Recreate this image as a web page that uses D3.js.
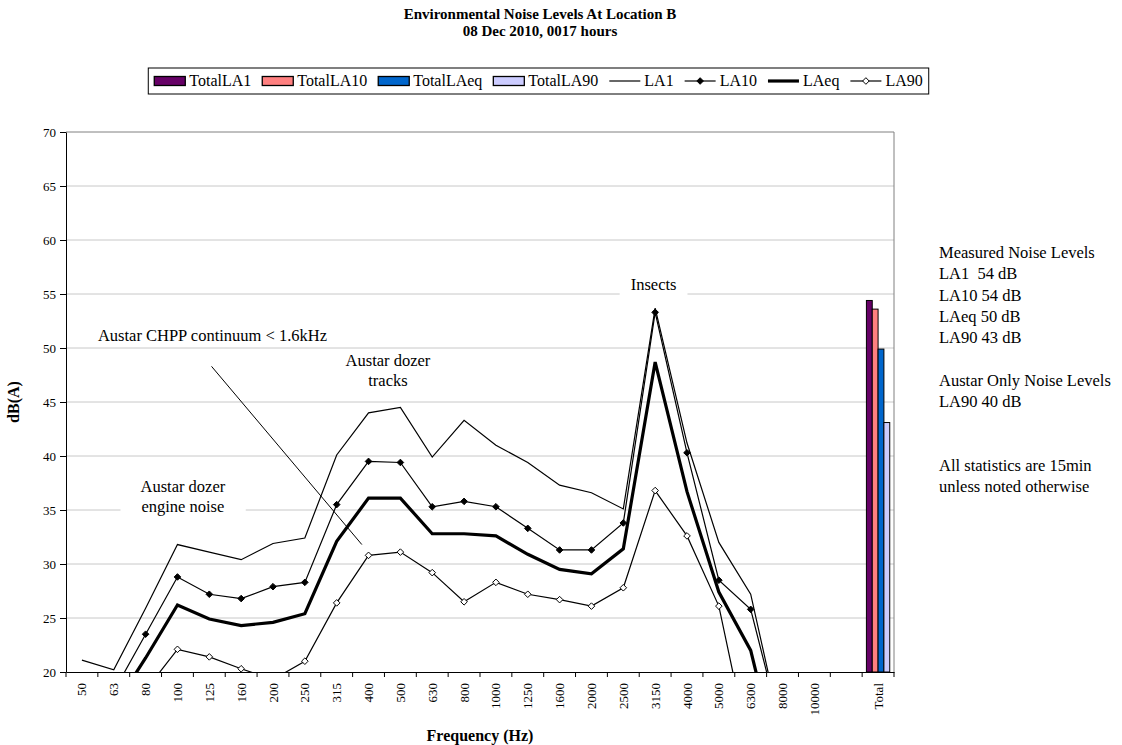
<!DOCTYPE html>
<html>
<head>
<meta charset="utf-8">
<script src="https://cdn.jsdelivr.net/npm/d3@7"></script>
<style>
  body { margin: 0; background: #fff; }
  svg { display: block; font-family: "Liberation Serif", "Times New Roman", serif; }
</style>
</head>
<body>
<div id="chart"></div>
<script>
// categories on the x axis (blank slot before the totals)
const categories = ["50", "63", "80", "100", "125", "160", "200", "250", "315", "400", "500", "630",
  "800", "1000", "1250", "1600", "2000", "2500", "3150", "4000", "5000", "6300", "8000", "10000", " ", "Total"];

// third-octave statistics, dB(A)  (null = not plotted)
const la1 = [21.1, 20.2, 25.9, 31.8, 31.1, 30.4, 31.9, 32.4, 40.1, 44.0, 44.5, 39.9,
  43.3, 41.0, 39.4, 37.3, 36.6, 35.1, 53.7, 41.2, 32.0, 27.2, 14.0, null];
const la10 = [null, 18.2, 23.5, 28.8, 27.2, 26.8, 27.9, 28.3, 35.5, 39.5, 39.4, 35.3,
  35.8, 35.3, 33.3, 31.3, 31.3, 33.8, 53.3, 40.3, 28.5, 25.8, 14.2, null];
const laeq = [null, 16.7, 21.3, 26.2, 24.9, 24.3, 24.6, 25.4, 32.1, 36.1, 36.1, 32.8,
  32.8, 32.6, 30.9, 29.5, 29.1, 31.4, 48.7, 36.7, 27.4, 22.0, 10.0, null];
const la90 = [null, null, 18.3, 22.1, 21.4, 20.3, 19.3, 21.0, 26.4, 30.8, 31.1, 29.2,
  26.5, 28.3, 27.2, 26.7, 26.1, 27.8, 36.8, 32.6, 26.1, 12.2, null, null];

// overall totals (bars at "Total")
const barSeries = ["TotalLA1", "TotalLA10", "TotalLAeq", "TotalLA90"];
const totals = [54.4, 53.6, 49.9, 43.1];
const barColors = ["#660066", "#ff8080", "#0066cc", "#ccccff"];

const lineSeries = ["LA1", "LA10", "LAeq", "LA90"];
const yTicks = [20, 25, 30, 35, 40, 45, 50, 55, 60, 65, 70];

const notes = ["Measured Noise Levels", "LA1  54 dB", "LA10 54 dB", "LAeq 50 dB", "LA90 43 dB", "",
  "Austar Only Noise Levels", "LA90 40 dB", "", "", "All statistics are 15min", "unless noted otherwise"];

// annotation text boxes: pos in category units, db = baseline of first line
const annotations = [
  { lines: ["Insects"], pos: 18.45, db: 55.4, pad: 11 },
  { lines: ["Austar CHPP continuum < 1.6kHz"], pos: 4.6, db: 50.65, pad: 9 },
  { lines: ["Austar dozer", "tracks"], pos: 10.11, db: 48.3, pad: 10 },
  { lines: ["Austar dozer", "engine noise"], pos: 3.67, db: 36.7, pad: 20 },
];
const callout = [{ pos: 4.57, db: 48.3 }, { pos: 9.29, db: 31.8 }];

const W = 1122, H = 745;
const m = { left: 66, right: 894, top: 132, bottom: 672 };

const svg = d3.select("#chart").append("svg").attr("width", W).attr("height", H);
svg.append("rect").attr("width", W).attr("height", H).attr("fill", "#fff");

const x = d3.scaleBand().domain(categories).range([m.left, m.right]).padding(0);
const bw = x.bandwidth();
const xPos = d3.scaleLinear().domain([0, categories.length]).range([m.left, m.right]);
const y = d3.scaleLinear().domain([20, 70]).range([m.bottom, m.top]);

// titles
svg.append("text").attr("x", 540).attr("y", 19).attr("text-anchor", "middle")
  .attr("font-weight", "bold").attr("font-size", 15).text("Environmental Noise Levels At Location B");
svg.append("text").attr("x", 540).attr("y", 36).attr("text-anchor", "middle")
  .attr("font-weight", "bold").attr("font-size", 15).text("08 Dec 2010, 0017 hours");

// gridlines + plot border
svg.append("g").selectAll("line").data(yTicks.filter((d) => d > 20)).join("line")
  .attr("x1", m.left).attr("x2", m.right)
  .attr("y1", (d) => y(d)).attr("y2", (d) => y(d))
  .attr("stroke", (d) => (d === 70 ? "#808080" : "#c8c8c8")).attr("stroke-width", 1);
svg.append("line").attr("x1", m.right).attr("x2", m.right).attr("y1", m.top).attr("y2", m.bottom)
  .attr("stroke", "#808080");

// annotation boxes + text (Excel text boxes hide the gridlines behind them)
const annG = svg.append("g");
annotations.forEach((a) => {
  const g = annG.append("g");
  const cx = xPos(a.pos), by = y(a.db);
  const t = g.append("text").attr("font-size", 16.5).attr("text-anchor", "middle");
  a.lines.forEach((ln, k) => t.append("tspan").attr("x", cx).attr("y", by + k * 20).text(ln));
  const bb = t.node().getBBox();
  g.insert("rect", "text").attr("x", bb.x - a.pad).attr("y", bb.y - 2)
    .attr("width", bb.width + 2 * a.pad).attr("height", bb.height + 4).attr("fill", "#fff");
});

// y axis
const yAxis = svg.append("g").attr("transform", `translate(${m.left},0)`)
  .call(d3.axisLeft(y).tickValues(yTicks).tickSize(6).tickPadding(4).tickSizeOuter(0))
  .attr("font-family", null).attr("font-size", 13);
yAxis.select(".domain").attr("stroke", "#000");
yAxis.selectAll("text").attr("fill", "#000");

// x axis: labels at band centers, ticks at band edges
const xAxis = svg.append("g").attr("transform", `translate(0,${m.bottom})`)
  .call(d3.axisBottom(x).tickSize(0).tickSizeOuter(0))
  .attr("font-family", null).attr("font-size", 13);
xAxis.select(".domain").attr("stroke", "#000");
xAxis.selectAll("text").attr("fill", "#000")
  .attr("transform", "rotate(-90)").attr("x", -11).attr("y", 0).attr("dy", "0.35em")
  .style("text-anchor", "end");
xAxis.selectAll(".edge").data(d3.range(categories.length + 1)).join("line")
  .attr("class", "edge").attr("x1", (i) => xPos(i)).attr("x2", (i) => xPos(i))
  .attr("y1", 0).attr("y2", 5).attr("stroke", "#000");

svg.append("text").attr("transform", "translate(19,402) rotate(-90)").attr("text-anchor", "middle")
  .attr("font-weight", "bold").attr("font-size", 16).text("dB(A)");
svg.append("text").attr("x", (m.left + m.right) / 2).attr("y", 741).attr("text-anchor", "middle")
  .attr("font-weight", "bold").attr("font-size", 16).text("Frequency (Hz)");

// bars at "Total"
const x1 = d3.scaleBand().domain(barSeries).range([0, bw]).paddingInner(0).paddingOuter(0.73);
svg.append("g").selectAll("rect").data(barSeries).join("rect")
  .attr("x", (s) => x("Total") + x1(s)).attr("width", x1.bandwidth())
  .attr("y", (s, k) => y(totals[k])).attr("height", (s, k) => y(20) - y(totals[k]))
  .attr("fill", (s, k) => barColors[k]).attr("stroke", "#000").attr("stroke-width", 1);

// lines
svg.append("clipPath").attr("id", "plotclip").append("rect")
  .attr("x", m.left).attr("y", m.top).attr("width", m.right - m.left).attr("height", m.bottom - m.top);

const seriesData = [la1, la10, laeq, la90].map((vals, k) => ({
  name: lineSeries[k],
  pts: vals.map((v, i) => ({ c: categories[i], v })),
}));
const lineStyle = {
  LA1: { w: 1.2, marker: null },
  LA10: { w: 1.2, marker: "fill" },
  LAeq: { w: 3.2, marker: null },
  LA90: { w: 1.2, marker: "open" },
};
const line = d3.line().defined((d) => d.v != null)
  .x((d) => x(d.c) + bw / 2).y((d) => y(d.v));
const diamond = (r) => `M0,${-r}L${r},0L0,${r}L${-r},0Z`;

const linesG = svg.append("g").attr("clip-path", "url(#plotclip)");
seriesData.forEach((s) => {
  linesG.append("path").datum(s.pts).attr("d", line).attr("fill", "none")
    .attr("stroke", "#000").attr("stroke-width", lineStyle[s.name].w).attr("stroke-linejoin", "miter");
});
seriesData.forEach((s) => {
  const mk = lineStyle[s.name].marker;
  if (!mk) return;
  svg.append("g").selectAll("path").data(s.pts.filter((d) => d.v != null && d.v >= 20)).join("path")
    .attr("transform", (d) => `translate(${x(d.c) + bw / 2},${y(d.v)})`)
    .attr("d", diamond(3.3))
    .attr("fill", mk === "fill" ? "#000" : "#fff").attr("stroke", "#000").attr("stroke-width", 1);
});

// callout line
svg.append("path").datum(callout)
  .attr("d", d3.line().x((d) => xPos(d.pos)).y((d) => y(d.db)))
  .attr("stroke", "#000").attr("stroke-width", 1).attr("fill", "none");

// right-hand notes
const nt = svg.append("text").attr("font-size", 16.5).attr("xml:space", "preserve").style("white-space", "pre");
notes.forEach((n, k) => nt.append("tspan").attr("x", 939).attr("y", 258 + k * 21.3).text(n));

// legend
const legend = svg.append("g");
const items = barSeries.map((s, k) => ({ name: s, kind: "bar", color: barColors[k] }))
  .concat(lineSeries.map((s) => ({ name: s, kind: "line" })));
let cx = 0;
const legY = 81;
items.forEach((it) => {
  const g = legend.append("g").attr("transform", `translate(${cx},0)`);
  if (it.kind === "bar") {
    g.append("rect").attr("x", 0).attr("y", legY - 4.5).attr("width", 31).attr("height", 9)
      .attr("fill", it.color).attr("stroke", "#000").attr("stroke-width", 1.3);
  } else {
    const st = lineStyle[it.name];
    g.append("line").attr("x1", 0).attr("x2", 31).attr("y1", legY).attr("y2", legY)
      .attr("stroke", "#000").attr("stroke-width", st.w);
    if (st.marker) {
      g.append("path").attr("transform", `translate(15.5,${legY})`).attr("d", diamond(3.3))
        .attr("fill", st.marker === "fill" ? "#000" : "#fff").attr("stroke", "#000");
    }
  }
  const t = g.append("text").attr("x", 35).attr("y", legY).attr("dy", "0.33em")
    .attr("font-size", 16).text(it.name);
  cx += 35 + t.node().getComputedTextLength() + 11;
});
const legW = cx - 11 + 12;
const legX = 538.5 - legW / 2;
legend.attr("transform", `translate(${legX + 6},0)`);
svg.insert("rect", "g").attr("x", legX).attr("y", 68).attr("width", legW).attr("height", 26)
  .attr("fill", "#fff").attr("stroke", "#000").attr("stroke-width", 1);
</script>
</body>
</html>
